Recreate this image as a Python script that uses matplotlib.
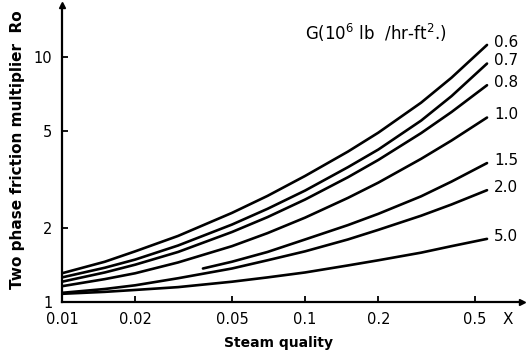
import matplotlib.pyplot as plt
from matplotlib.ticker import FixedLocator, FixedFormatter, NullLocator

# Steam quality X
x = [0.01, 0.015, 0.02, 0.03, 0.05, 0.07, 0.1, 0.15, 0.2, 0.3, 0.4, 0.56]
x_15 = [0.038, 0.05, 0.07, 0.1, 0.15, 0.2, 0.3, 0.4, 0.56]

# Two phase friction multiplier Ro for each mass flux G (10^6 lb/hr-ft2)
ro_06 = [1.31, 1.46, 1.61, 1.86, 2.31, 2.71, 3.27, 4.11, 4.91, 6.51, 8.23, 11.2]
ro_07 = [1.26, 1.38, 1.49, 1.70, 2.07, 2.40, 2.85, 3.55, 4.19, 5.50, 6.92, 9.4]
ro_08 = [1.21, 1.32, 1.42, 1.60, 1.93, 2.22, 2.62, 3.23, 3.80, 4.89, 5.96, 7.67]
ro_10 = [1.16, 1.24, 1.31, 1.45, 1.69, 1.91, 2.21, 2.66, 3.07, 3.84, 4.56, 5.66]
ro_15 = [1.37, 1.46, 1.60, 1.80, 2.06, 2.29, 2.70, 3.10, 3.69]
ro_20 = [1.09, 1.13, 1.17, 1.25, 1.37, 1.48, 1.61, 1.80, 1.97, 2.25, 2.50, 2.86]
ro_50 = [1.08, 1.10, 1.12, 1.15, 1.21, 1.26, 1.32, 1.41, 1.48, 1.59, 1.69, 1.81]

curves = [("0.6", x, ro_06), ("0.7", x, ro_07), ("0.8", x, ro_08),
          ("1.0", x, ro_10), ("1.5", x_15, ro_15), ("2.0", x, ro_20),
          ("5.0", x, ro_50)]

xtick_vals = [0.01, 0.02, 0.05, 0.1, 0.2, 0.5]
xtick_labels = ["0.01", "0.02", "0.05", "0.1", "0.2", "0.5"]
ytick_vals = [1, 2, 5, 10]
ytick_labels = ["1", "2", "5", "10"]

fig = plt.figure(figsize=(5.27, 3.6), dpi=100)
ax = fig.add_axes([62 / 527, 58 / 360, 460 / 527, 297 / 360])

for label, xs, ys in curves:
    ax.plot(xs, ys, color="black", lw=1.9, solid_capstyle="round")
    ax.annotate(label, xy=(xs[-1], ys[-1]), xytext=(5, 2),
                textcoords="offset points", va="center", ha="left",
                fontsize=11)

ax.set_xscale("log")
ax.set_yscale("log")
ax.set_xlim(0.01, 0.78)
ax.set_ylim(1, 16.3)

ax.xaxis.set_major_locator(FixedLocator(xtick_vals))
ax.xaxis.set_major_formatter(FixedFormatter(xtick_labels))
ax.yaxis.set_major_locator(FixedLocator(ytick_vals))
ax.yaxis.set_major_formatter(FixedFormatter(ytick_labels))
ax.xaxis.set_minor_locator(NullLocator())
ax.yaxis.set_minor_locator(NullLocator())
ax.tick_params(direction="in", length=4, width=1.3, labelsize=10.5, pad=7)

# only the two axes, with arrow heads
for side in ("top", "right"):
    ax.spines[side].set_visible(False)
for side in ("left", "bottom"):
    ax.spines[side].set_linewidth(1.6)
ax.plot(1, 0, ">", color="black", ms=5, transform=ax.transAxes, clip_on=False)
ax.plot(0, 1, "^", color="black", ms=5, transform=ax.transAxes, clip_on=False)

ax.annotate("X", xy=(0.68, 0), xycoords=("data", "axes fraction"),
            xytext=(0, -17), textcoords="offset pixels",
            ha="center", va="center", fontsize=11)

fig.text(305 / 527, 1 - 33 / 360, r"G(10$^6$ lb  /hr-ft$^2$.)",
         ha="left", va="center", fontsize=12)
fig.text(278 / 527, 1 - 343 / 360, "Steam quality", ha="center",
         va="center", fontsize=10, fontweight="bold")
fig.text(18 / 527, 1 - 150 / 360, "Two phase friction multiplier  Ro",
         ha="center", va="center", rotation=90, fontsize=11,
         fontweight="bold")

fig.savefig("out.png", dpi=100)
